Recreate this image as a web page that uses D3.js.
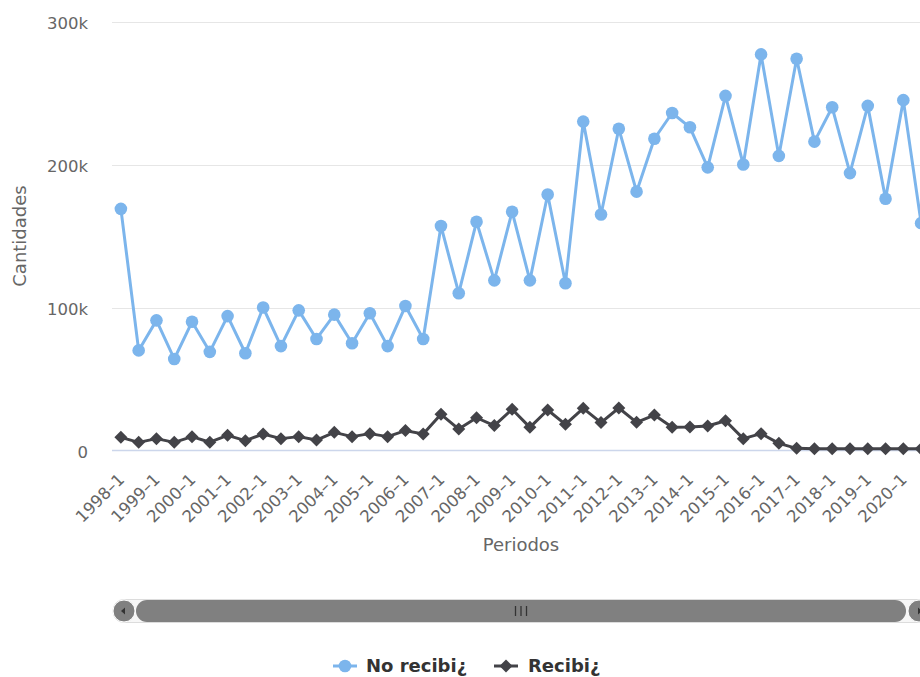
<!DOCTYPE html>
<html>
<head>
<meta charset="utf-8">
<script src="https://cdn.jsdelivr.net/npm/d3@7"></script>
<style>
  html, body { margin: 0; padding: 0; background: #fff; overflow: hidden; }
  svg { display: block; font-family: "DejaVu Sans", sans-serif; }
</style>
</head>
<body>
<div id="chart"></div>
<script>
// ---- data ----
const periods = [];
const years = d3.range(1998, 2021);
years.forEach(y => { periods.push(y + "–1"); periods.push(y + "–2"); });

const noRecibi = [169, 70, 91, 64, 90, 69, 94, 68, 100, 73,
                  98, 78, 95, 75, 96, 73, 101, 78, 157, 110,
                  160, 119, 167, 119, 179, 117, 230, 165, 225, 181,
                  218, 236, 226, 198, 248, 200, 277, 206, 274, 216,
                  240, 194, 241, 176, 245, 159].map(v => v * 1000);

const recibi = [9.2, 5.7, 8.3, 5.7, 9.7, 5.8, 10.6, 6.9, 11.5, 8.3,
                9.7, 7.3, 12.7, 9.7, 11.8, 9.7, 13.9, 11.5, 25.3, 15,
                22.9, 17.4, 28.8, 16.2, 28.3, 18.3, 29.5, 19.5, 29.7, 19.7,
                24.8, 16.2, 16.4, 17.1, 20.8, 8.3, 11.8, 5, 1.5, 1.2,
                1.2, 1.2, 1.2, 1.2, 1.2, 1.2].map(v => v * 1000);

const yTicks = [0, 100000, 200000, 300000];
const seriesNames = ["No recibi¿", "Recibi¿"];
const seriesColors = ["#7cb5ec", "#434348"];

// ---- layout ----
const W = 941, H = 677;
const plotL = 112, plotR = 930, plotT = 21.5, plotB = 450.5;

const svg = d3.select("#chart").append("svg").attr("width", W).attr("height", H);

const x = d3.scalePoint().domain(periods).range([plotL, plotR]).padding(0.5);
const y = d3.scaleLinear().domain([0, 300000]).range([plotB, plotT]);

// gridlines
svg.append("g").selectAll("line").data(yTicks.filter(d => d > 0)).join("line")
  .attr("x1", plotL).attr("x2", plotR)
  .attr("y1", d => Math.round(y(d)) + 0.5).attr("y2", d => Math.round(y(d)) + 0.5)
  .attr("stroke", "#e6e6e6").attr("stroke-width", 1);

// y axis labels
const fmt = d => d === 0 ? "0" : (d / 1000) + "k";
const yAxis = d3.axisLeft(y).tickValues(yTicks).tickFormat(fmt).tickSize(0).tickPadding(0);
const yg = svg.append("g").attr("transform", `translate(88,0)`).call(yAxis);
yg.select(".domain").remove();
yg.selectAll("text").attr("fill", "#666666").style("font-size", "16.5px")
  .style("font-family", "DejaVu Sans").attr("dy", "0.4em");

// y title
svg.append("text").attr("transform", `translate(26,${(plotT + plotB) / 2}) rotate(-90)`)
  .attr("text-anchor", "middle").attr("fill", "#666666").style("font-size", "18px")
  .text("Cantidades");

// x axis line
svg.append("line").attr("x1", plotL).attr("x2", plotR).attr("y1", plotB).attr("y2", plotB)
  .attr("stroke", "#ccd6eb").attr("stroke-width", 1.5);

// x labels (every other)
const xAxis = d3.axisBottom(x).tickValues(periods.filter((d, i) => i % 2 === 0)).tickSize(0).tickPadding(0);
const xg = svg.append("g").attr("transform", `translate(0,${plotB})`).call(xAxis);
xg.select(".domain").remove();
xg.selectAll("text")
  .attr("fill", "#666666").style("font-size", "16.5px").style("font-family", "DejaVu Sans")
  .attr("text-anchor", "end")
  .attr("y", 0).attr("dy", "0.35em")
  .attr("transform", "translate(0,26) rotate(-45)");

// x title
svg.append("text").attr("x", (plotL + plotR) / 2).attr("y", 551)
  .attr("text-anchor", "middle").attr("fill", "#666666").style("font-size", "18px")
  .text("Periodos");

// series
const line = d3.line().x((d, i) => x(periods[i])).y(d => y(d));
const diamond = (r) => `M0,${-r}L${r},0L0,${r}L${-r},0Z`;

const plot = svg.append("g");
[noRecibi, recibi].forEach((vals, si) => {
  plot.append("path").datum(vals).attr("d", line)
    .attr("fill", "none").attr("stroke", seriesColors[si]).attr("stroke-width", 3)
    .attr("stroke-linejoin", "round").attr("stroke-linecap", "round");
});
plot.append("g").selectAll("circle").data(noRecibi).join("circle")
  .attr("cx", (d, i) => x(periods[i])).attr("cy", d => y(d)).attr("r", 6.3)
  .attr("fill", seriesColors[0]);
plot.append("g").selectAll("path").data(recibi).join("path")
  .attr("transform", (d, i) => `translate(${x(periods[i])},${y(d)})`)
  .attr("d", diamond(6.5)).attr("fill", seriesColors[1]);

// scrollbar
const sbY = 600, sbH = 22;
const sb = svg.append("g");
sb.append("rect").attr("x", 113).attr("y", sbY - 0.5).attr("width", 931 - 113).attr("height", sbH + 1)
  .attr("fill", "#f7f7f7").attr("stroke", "#dcdcdc").attr("stroke-width", 1).attr("rx", 11);
sb.append("rect").attr("x", 136).attr("y", sbY).attr("width", 906 - 136).attr("height", sbH)
  .attr("rx", 11).attr("fill", "#808080");
sb.append("circle").attr("cx", 124).attr("cy", sbY + sbH / 2).attr("r", 11).attr("fill", "#808080")
  .attr("stroke", "#ffffff").attr("stroke-width", 1);
sb.append("circle").attr("cx", 919).attr("cy", sbY + sbH / 2).attr("r", 11).attr("fill", "#808080")
  .attr("stroke", "#ffffff").attr("stroke-width", 1);
sb.append("path").attr("d", `M${121},${sbY + 11}L${125},${sbY + 7.5}L${125},${sbY + 14.5}Z`).attr("fill", "#333");
sb.append("path").attr("d", `M${922},${sbY + 11}L${918},${sbY + 7.5}L${918},${sbY + 14.5}Z`).attr("fill", "#333");
const gx = (136 + 906) / 2;
[-5.5, 0, 5.5].forEach(o => {
  sb.append("line").attr("x1", gx + o).attr("x2", gx + o).attr("y1", sbY + 6).attr("y2", sbY + 16)
    .attr("stroke", "#333").attr("stroke-width", 1.3);
});

// legend
const legend = svg.append("g");
const items = [{ sx: 333, tx: 366 }, { sx: 494, tx: 528 }];
items.forEach((it, i) => {
  const g = legend.append("g");
  g.append("line").attr("x1", it.sx).attr("x2", it.sx + 24).attr("y1", 666).attr("y2", 666)
    .attr("stroke", seriesColors[i]).attr("stroke-width", 3);
  if (i === 0) g.append("circle").attr("cx", it.sx + 12).attr("cy", 666).attr("r", 6.3).attr("fill", seriesColors[0]);
  else g.append("path").attr("transform", `translate(${it.sx + 12},666)`).attr("d", diamond(6.5)).attr("fill", seriesColors[1]);
  g.append("text").attr("x", it.tx).attr("y", 672).attr("fill", "#333333")
    .style("font-size", "18px").style("font-weight", "bold").text(seriesNames[i]);
});
</script>
</body>
</html>
